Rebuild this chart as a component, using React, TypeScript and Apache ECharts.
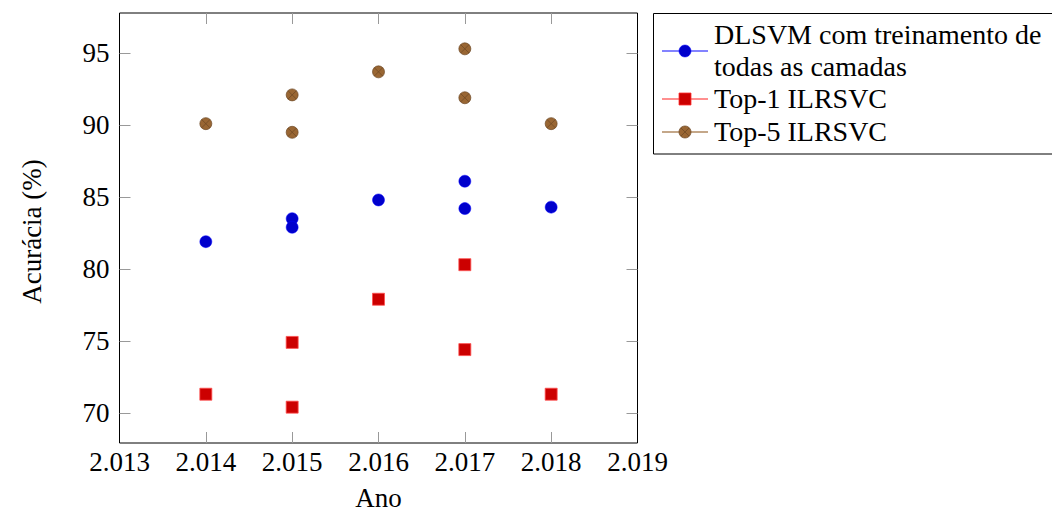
import React, { useEffect, useRef } from "react";
import * as echarts from "echarts";

const years = [2014, 2015, 2015, 2016, 2017, 2017, 2018];
const dlsvmAcc = [81.9, 83.5, 82.9, 84.8, 86.1, 84.2, 84.3];
const top1Acc = [71.3, 74.9, 70.4, 77.9, 80.3, 74.4, 71.3];
const top5Acc = [90.1, 92.1, 89.5, 93.7, 95.3, 91.9, 90.1];

const seriesNames = ["DLSVM com treinamento de todas as camadas", "Top-1 ILRSVC", "Top-5 ILRSVC"];
const legendLines = ["DLSVM com treinamento de", "todas as camadas", "Top-1 ILRSVC", "Top-5 ILRSVC"];
const xTicks = [2013, 2014, 2015, 2016, 2017, 2018, 2019];
const yTicks = [70, 75, 80, 85, 90, 95];
const xLabel = "Ano";
const yLabel = "Acurácia (%)";

const FONT = "Liberation Serif";
const FS = 27;
const LFS = 28;

const OTIMES =
  "path://M0,-10A10,10,0,1,1,0,10A10,10,0,1,1,0,-10ZM-7.07,-7.07L7.07,7.07M7.07,-7.07L-7.07,7.07";

export default function App() {
  const ref = useRef<HTMLDivElement>(null);
  useEffect(() => {
    if (!ref.current) return;
    const chart = echarts.init(ref.current, undefined, { renderer: "svg" });
    const pts = (vals: number[]) => vals.map((v, i) => [years[i], v]);
    const tickStyle = { show: true, inside: true, length: 11, lineStyle: { color: "#999", width: 1 } };
    const xBase = {
      type: "value" as const,
      min: 2013,
      max: 2019,
      interval: 1,
      axisLine: { show: false },
      splitLine: { show: false },
    };
    const yBase = {
      type: "value" as const,
      min: 67.91,
      max: 97.79,
      axisLine: { show: false },
      splitLine: { show: false },
    };
    const lx = 662, rx = 708, mx = 685, tx = 714;
    const rowY = [34.5, 66, 98.5, 131];
    const sampleY = [51, 99, 132];
    chart.setOption({
      animation: false,
      textStyle: { fontFamily: FONT },
      grid: {
        left: 119.5,
        top: 13,
        right: 414.5,
        bottom: 71,
        containLabel: false,
        outerBoundsMode: "none",
        show: true,
        borderColor: "#000",
        borderWidth: 1,
        backgroundColor: "transparent",
      },
      xAxis: [
        {
          ...xBase,
          position: "bottom",
          axisTick: { ...tickStyle, customValues: xTicks.slice(1, -1) },
          axisLabel: {
            fontFamily: FONT,
            fontSize: FS,
            color: "#000",
            margin: 19,
            verticalAlign: "middle",
            customValues: xTicks,
            formatter: (v: number) => (v / 1000).toFixed(3),
          },
          name: xLabel,
          nameLocation: "middle",
          nameGap: 55,
          nameTextStyle: {
            fontFamily: FONT,
            fontSize: FS,
            color: "#000",
            verticalAlign: "middle",
            lineHeight: 18,
          },
        },
        {
          ...xBase,
          position: "top",
          axisTick: { ...tickStyle, customValues: xTicks.slice(1, -1) },
          axisLabel: { show: false },
        },
      ],
      yAxis: [
        {
          ...yBase,
          position: "left",
          axisTick: { ...tickStyle, customValues: yTicks },
          axisLabel: {
            fontFamily: FONT,
            fontSize: FS,
            color: "#000",
            margin: 10,
            customValues: yTicks,
          },
          name: yLabel,
          nameLocation: "middle",
          nameGap: 88,
          nameRotate: 90,
          nameTextStyle: {
            fontFamily: FONT,
            fontSize: FS,
            color: "#000",
            align: "center",
            verticalAlign: "middle",
            padding: [0, 7, 0, 0],
          },
        },
        {
          ...yBase,
          position: "right",
          axisTick: { ...tickStyle, customValues: yTicks },
          axisLabel: { show: false },
        },
      ],
      legend: { show: false },
      series: [
        {
          name: seriesNames[0],
          type: "scatter",
          data: pts(dlsvmAcc),
          symbol: "circle",
          symbolSize: 12,
          itemStyle: { color: "#0000cc", borderColor: "#0000ff", borderWidth: 0.5, opacity: 1 },
        },
        {
          name: seriesNames[1],
          type: "scatter",
          data: pts(top1Acc),
          symbol: "rect",
          symbolSize: 12,
          itemStyle: { color: "#cc0000", borderColor: "#ff5050", borderWidth: 0.8, opacity: 1 },
        },
        {
          name: seriesNames[2],
          type: "scatter",
          data: pts(top5Acc),
          symbol: OTIMES,
          symbolSize: 12,
          itemStyle: { color: "#996633", borderColor: "#6b4622", borderWidth: 0.7, opacity: 1 },
        },
      ],
      graphic: [
        {
          type: "rect",
          shape: { x: 653.5, y: 13.5, width: 430, height: 140.5 },
          style: { fill: "#fff", stroke: "#000", lineWidth: 1 },
        },
        { type: "line", shape: { x1: lx, y1: sampleY[0], x2: rx, y2: sampleY[0] }, style: { stroke: "#5a5aff", lineWidth: 1.6 } },
        { type: "circle", shape: { cx: mx, cy: sampleY[0], r: 6 }, style: { fill: "#0000cc", stroke: "#0000ff", lineWidth: 0.5 } },
        { type: "line", shape: { x1: lx, y1: sampleY[1], x2: rx, y2: sampleY[1] }, style: { stroke: "#ff6a6a", lineWidth: 1.6 } },
        { type: "rect", shape: { x: mx - 6, y: sampleY[1] - 6, width: 12, height: 12 }, style: { fill: "#cc0000", stroke: "#ff3030", lineWidth: 0.8 } },
        { type: "line", shape: { x1: lx, y1: sampleY[2], x2: rx, y2: sampleY[2] }, style: { stroke: "#b08a62", lineWidth: 1.6 } },
        { type: "circle", shape: { cx: mx, cy: sampleY[2], r: 6 }, style: { fill: "#996633", stroke: "#6b4622", lineWidth: 0.7 } },
        { type: "line", shape: { x1: mx - 4.2, y1: sampleY[2] - 4.2, x2: mx + 4.2, y2: sampleY[2] + 4.2 }, style: { stroke: "#6b4622", lineWidth: 0.7 } },
        { type: "line", shape: { x1: mx + 4.2, y1: sampleY[2] - 4.2, x2: mx - 4.2, y2: sampleY[2] + 4.2 }, style: { stroke: "#6b4622", lineWidth: 0.7 } },
        ...legendLines.map((t, i) => ({
          type: "text",
          x: tx,
          y: rowY[i],
          style: {
            text: t,
            fontFamily: FONT,
            fontSize: LFS,
            fill: "#000",
            verticalAlign: "middle",
            align: "left",
          },
        })),
      ],
    });
    return () => chart.dispose();
  }, []);
  return (
    <div
      ref={ref}
      style={{ position: "fixed", left: 0, top: 0, width: 1052, height: 514, background: "#fff" }}
    />
  );
}
